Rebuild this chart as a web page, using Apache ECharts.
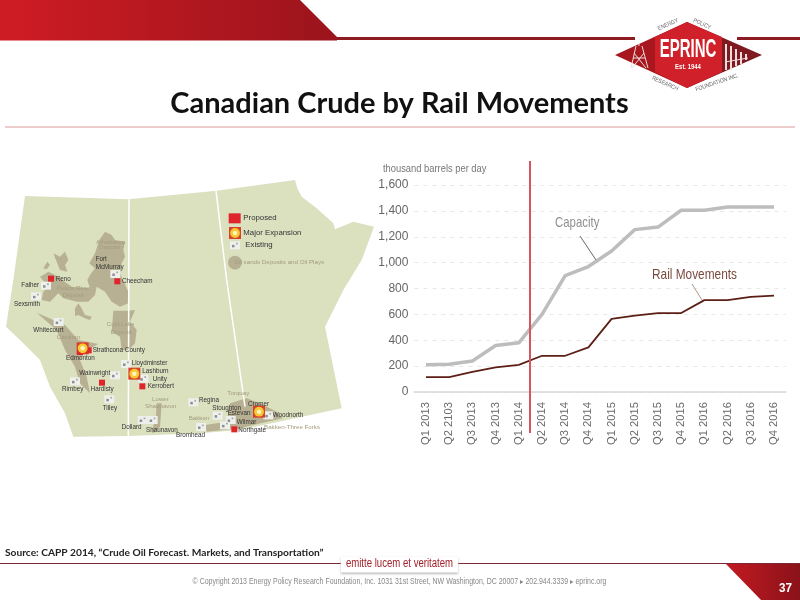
<!DOCTYPE html>
<html><head><meta charset="utf-8">
<style>html,body{margin:0;padding:0;background:#fff}#c{width:800px;height:600px}</style>
<script src="https://cdn.jsdelivr.net/npm/echarts@6/dist/echarts.min.js"></script>
</head><body><div id="c"></div>
<script>
const categories = ['Q1 2013','Q2 2103','Q3 2013','Q4 2013','Q1 2014','Q2 2014','Q3 2014','Q4 2014','Q1 2015','Q2 2015','Q3 2015','Q4 2015','Q1 2016','Q2 2016','Q3 2016','Q4 2016'];
const capacity = [210,215,240,360,380,600,900,970,1090,1255,1275,1405,1405,1430,1430,1430];
const railMovements = [115,115,155,190,210,280,280,345,565,590,610,610,710,710,735,745];
const yTicks = {min:0,max:1600,interval:200};

// Map artwork, in zoomed-crop units (1/3 px, origin at 0,180)
const mapOutline = [[75,48],[385,58],[650,32],[885,0],[892,25],[905,50],[950,85],[1000,130],[1005,148],[1060,125],[1122,140],[1085,240],[1030,330],[975,440],[1025,685],[850,722],[720,750],[600,760],[390,768],[220,770],[195,700],[150,620],[120,540],[60,480],[18,440],[40,300]];
const deposits = [
 [[130,285],[145,275],[165,285],[180,295],[215,320],[270,325],[262,300],[270,285],[285,265],[268,250],[285,220],[298,180],[315,155],[335,165],[345,180],[375,185],[370,210],[375,230],[365,250],[360,280],[385,335],[385,370],[360,380],[335,365],[315,335],[290,320],[285,345],[265,365],[230,365],[190,355],[175,340],[150,365],[125,360],[130,335],[145,320],[120,290]],
 [[160,220],[180,230],[195,215],[205,240],[195,255],[202,275],[180,270],[170,245]],
 [[130,265],[142,245],[150,255],[140,268]],
 [[225,385],[235,370],[245,385],[255,405],[275,410],[270,420],[255,415],[235,405],[225,408]],
 [[340,392],[385,392],[405,390],[390,425],[410,450],[405,490],[385,510],[365,510],[360,470],[335,455]],
 [[110,398],[195,435],[235,480],[295,492],[260,510],[240,540],[260,590],[270,640],[240,610],[225,560],[195,510],[170,450]],
 [[470,670],[485,670],[480,740],[460,760],[455,755],[468,710]],
 [[615,735],[680,725],[690,670],[740,655],[780,670],[830,695],[848,715],[760,735],[720,745],[620,755]]
];
const darkLabels = [['Reno',167,297],['Falher',64,316],['Sexsmith',42,372],['Fort',287,237],['McMurray',287,261],['Cheecham',366,304],['Whitecourt',100,452],['Strathcona County',278,512],['Edmonton',198,535],['Lloydminster',395,550],['Lashburn',427,574],['Unity',458,599],['Kerrobert',443,620],['Wainwright',238,581],['Rimbey',186,628],['Hardisty',272,628],['Tilley',308,685],['Dollard',365,743],['Shaunavon',438,750],['Bromhead',528,767],['Regina',597,661],['Stoughton',637,684],['Estevan',683,699],['Cromer',744,673],['Woodnorth',818,706],['Wilmar',710,728],['Northgate',715,750]];
const tanLabels = [['Athabasca',288,187],['Deposit',297,202],['Peace River',170,325],['Deposit',188,347],['Cold Lake',320,434],['Deposit',332,456],['Cardium',170,473],['Lower',456,657],['Shaunavon',435,680],['Bakken',566,715],['Torquay',682,641],['Bakken-Three Forks',792,742],['Oil sands Deposits and Oil Plays',703,248]];
const proposedSites = [[153,296],[352,304],[240,516],[266,511],[306,608],[427,619],[703,748]];
const expansionSites = [[248,505],[403,581],[777,695]];
const existingSites = [[138,317],[108,349],[176,426],[346,282],[378,552],[345,586],[225,604],[430,596],[328,658],[428,720],[458,720],[580,667],[653,707],[692,720],[675,736],[603,741],[805,706]];

const mx = v => v/3, my = v => 180+v/3;
const pts = a => a.map(p => [mx(p[0]), my(p[1])]);
const g = [];
const sans = '"Liberation Sans",sans-serif';
function text(t,x,y,size,color,o){o=o||{};g.push({type:'text',x,y,rotation:o.rot||0,scaleX:o.sx||1,z:o.z||20,style:{text:t,fontSize:size,fill:color,fontFamily:o.font||sans,fontWeight:o.weight||'normal',textAlign:o.align||'left',textVerticalAlign:'middle',opacity:o.op==null?1:o.op}});}
function poly(p,fill,o){o=o||{};g.push({type:'polygon',z:o.z||5,shape:{points:p},style:{fill,opacity:o.op==null?1:o.op}});}
function rect(x,y,w,h,fill,z){g.push({type:'rect',z:z||12,shape:{x,y,width:w,height:h},style:{fill}});}
function line(x1,y1,x2,y2,stroke,w,z){g.push({type:'line',z:z||10,shape:{x1,y1,x2,y2},style:{stroke,lineWidth:w}});}
function expansion(cx,cy,s){rect(cx-s,cy-s,2*s,2*s,'#d8402a',13);g.push({type:'circle',z:14,shape:{cx,cy,r:s*.82},style:{fill:'#f6c832'}});g.push({type:'circle',z:14,shape:{cx,cy,r:s*.38},style:{fill:'#fdf3c0'}});}
function existing(cx,cy,s){rect(cx-s,cy-s*.8,2*s,1.6*s,'#eef0ec',12);rect(cx-s*.6,cy-s*.1,s*.5,s*.5,'#8b8f92',13);rect(cx+s*.2,cy-s*.5,s*.35,s*.35,'#a5a8aa',13);}

// Header
const red = {type:'linear',x:0,y:0,x2:1,y2:0,colorStops:[{offset:0,color:'#cf1c24'},{offset:1,color:'#9b141c'}]};
poly([[0,0],[300,0],[337,37],[337,40.5],[0,40.5]],red,{z:8});
line(337,38.5,635,38.5,'#8e1a22',3,8); line(737,38.5,800,38.5,'#8e1a22',3,8);
// Logo
poly([[615,55],[687,22],[687,88]],'#a8161e',{z:9});
poly([[762,55],[687,22],[687,88]],'#7f1a20',{z:9});
poly([[655,37],[687,22],[722,37],[722,72],[687,88],[655,72]],'#d0202a',{z:9});
[[636,46,631,68],[642,46,648,68],[639,44,639,46],[633,58,645,58],[634,53,646,68],[644,53,632,68]].forEach(b=>line(b[0],b[1],b[2],b[3],'#efdcdc',1,11));
[[726,44,70],[731,46,70],[736,49,66],[741,52,64],[746,54,60]].forEach(b=>line(b[0],b[1],b[0],b[2],'#efdcdc',2,11));
line(725,62,748,58,'#efdcdc',1,11);
text('EPRINC',688,50,25,'#fff',{weight:'bold',align:'center',sx:.6});
text('Est. 1944',688,67,7,'#fff',{weight:'bold',align:'center',sx:.85});
text('ENERGY',668,24.5,6,'#666',{align:'center',rot:.42,sx:.85});
text('POLICY',702,24,6,'#666',{align:'center',rot:-.42,sx:.85});
text('RESEARCH',665,83.5,6,'#666',{align:'center',rot:-.42,sx:.85});
text('FOUNDATION INC.',717,82.5,6,'#666',{align:'center',rot:.32,sx:.85});

// Title
text('Canadian Crude by Rail Movements',399.5,103.5,29,'#111',{font:'Lato,sans-serif',weight:'bold',align:'center'});
line(5,127,795,127,'#dc9a9a',1);

// Map
poly(pts(mapOutline),'#dbe0bf');
deposits.forEach(d=>poly(pts(d),'#b8b092',{z:6}));
line(mx(387),my(58),mx(385),my(770),'#fff',1.5,7);
g.push({type:'polyline',z:7,shape:{points:pts([[648,32],[680,300],[735,680]])},style:{stroke:'#fff',lineWidth:1.5,fill:null}});
tanLabels.forEach(l=>text(l[0],mx(l[1]),my(l[2]),6.2,'#a39c7e',{z:15}));
existingSites.forEach(s=>existing(mx(s[0]),my(s[1]),5));
proposedSites.forEach(s=>rect(mx(s[0])-3,my(s[1])-3,6,6,'#e0242c',14));
expansionSites.forEach(s=>expansion(mx(s[0]),my(s[1]),6));
darkLabels.forEach(l=>text(l[0],mx(l[1]),my(l[2]),6.3,'#333',{z:16}));
// Map legend
rect(mx(686),my(100),12,10,'#e0242c',14);
expansion(mx(705),my(159),6);
existing(mx(705),my(196),5);
g.push({type:'circle',z:6,shape:{cx:mx(705),cy:my(248),r:7},style:{fill:'#b8b092'}});
text('Proposed',mx(730),my(115),7.8,'#333');
text('Major Expansion',mx(730),my(158),7.8,'#333');
text('Existing',mx(736),my(195),7.8,'#333');

// Chart annotations
text('thousand barrels per day',383,169,11,'#777',{sx:.85});
line(530,161,530,433,'#d3575f',2,30);
text('Capacity',555,223,15,'#8f8f8f',{sx:.76});
line(580,236,596,260,'#666',1,18);
text('Rail Movements',652,275,15,'#7b4a3e',{sx:.79});
line(692,284,702,300,'#b09a90',1,18);

// Footer
text('Source: CAPP 2014, “Crude Oil Forecast. Markets, and Transportation”',5,553,10.2,'#222',{font:'Lato,sans-serif',weight:'bold'});
line(0,563.5,800,563.5,'#7a2a30',1);
g.push({type:'rect',z:12,shape:{x:341,y:557,width:117,height:15.5},style:{fill:'#fff',shadowBlur:2,shadowColor:'#bbb',shadowOffsetY:1}});
text('emitte lucem et veritatem',399.5,564,12,'#a0222a',{align:'center',sx:.8,z:13});
poly([[725,563],[800,563],[800,600],[761,600]],{type:'linear',x:0,y:0,x2:1,y2:0,colorStops:[{offset:0,color:'#c41a22'},{offset:1,color:'#8a1219'}]},{z:8});
text('37',785.5,588,13,'#fff',{weight:'bold',align:'center',sx:.9,z:13});
text('© Copyright 2013 Energy Policy Research Foundation, Inc. 1031 31st Street, NW Washington, DC 20007 ▸ 202.944.3339 ▸ eprinc.org',399.5,581.5,8.2,'#888',{align:'center',sx:.853});

const chart = echarts.init(document.getElementById('c'),null,{renderer:'canvas'});
chart.setOption({
 animation:false,
 backgroundColor:'#fff',
 grid:{left:414.4,top:185,width:371.2,height:207,containLabel:false},
 xAxis:{type:'category',data:categories,boundaryGap:true,
   axisLine:{lineStyle:{color:'#d8d8d8',width:1.5}},axisTick:{show:false},
   axisLabel:{rotate:90,interval:0,margin:10,fontSize:11.2,color:'#6a6a6a',fontFamily:sans}},
 yAxis:{type:'value',min:yTicks.min,max:yTicks.max,interval:yTicks.interval,
   axisLine:{show:false},axisTick:{show:false},
   axisLabel:{margin:6,fontSize:12,color:'#666',fontFamily:sans,formatter:v=>v.toLocaleString('en-US')},
   splitLine:{lineStyle:{color:'#e8e8e8',type:[4,5],width:1}}},
 series:[
  {name:'Capacity',type:'line',data:capacity,symbol:'none',z:3,lineStyle:{color:'#bdbdbd',width:3.5}},
  {name:'Rail Movements',type:'line',data:railMovements,symbol:'none',z:4,lineStyle:{color:'#5c1f16',width:1.8}}
 ],
 graphic:{elements:g}
});
</script></body></html>
